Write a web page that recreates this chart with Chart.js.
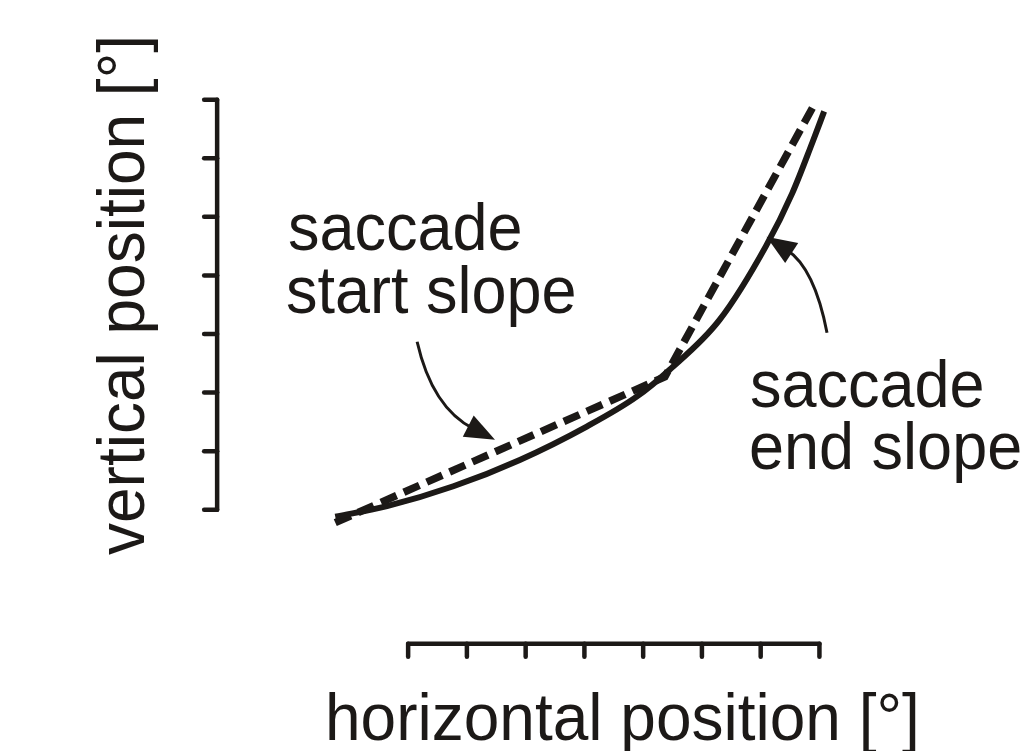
<!DOCTYPE html>
<html>
<head>
<meta charset="utf-8">
<script src="https://cdn.jsdelivr.net/npm/chart.js@4"></script>
<style>
  html, body { margin: 0; padding: 0; background: #ffffff; }
  #wrap { width: 1025px; height: 751px; position: relative; }
</style>
</head>
<body>
<div id="wrap"><canvas id="c" width="1025" height="751"></canvas></div>
<script>
// ---- data (axis units, degrees, unlabeled ticks) ----
const xTicks = [0, 1, 2, 3, 4, 5, 6, 7];
const yTicks = [0, 1, 2, 3, 4, 5, 6, 7];

// actual saccade trajectory (solid, curved)
const trajX = [-1.24, -0.36, 0.77, 1.90, 3.04, 3.89, 4.45, 5.30, 6.09, 6.54, 6.88, 7.08];
const trajY = [-0.12, 0.06, 0.40, 0.85, 1.42, 1.93, 2.39, 3.24, 4.50, 5.41, 6.27, 6.80];

// start slope / end slope (dashed, two straight pieces)
const slopeX = [-1.24, 4.37, 6.93];
const slopeY = [-0.22, 2.27, 6.95];

// annotation arrows: start, control, tip (axis units)
const arrowStart = [[0.153, 2.868], [0.408, 1.742], [1.478, 1.195]];
const arrowEnd   = [[7.129, 3.022], [6.915, 4.132], [6.099, 4.661]];

const xTitle = "horizontal position [°]";
const yTitle = "vertical position [°]";
const labelStart = ["saccade", "start slope"];
const labelEnd = ["saccade", "end slope"];

const INK = "#1c1917";
const FAMILY = '"Liberation Sans", Arial, Helvetica, sans-serif';

const toPts = (xs, ys) => xs.map((x, i) => ({ x: x, y: ys[i] }));

const decor = {
  id: "decor",
  afterDatasetsDraw(chart) {
    const ctx = chart.ctx;
    const xs = chart.scales.x, ys = chart.scales.y;
    const px = v => xs.getPixelForValue(v);
    const py = v => ys.getPixelForValue(v);
    ctx.save();
    ctx.strokeStyle = INK;
    ctx.fillStyle = INK;
    ctx.lineCap = "round";
    ctx.lineWidth = 4.5;

    // y axis (detached, to the left)
    const yAxisX = px(xTicks[0]) - 191;
    ctx.beginPath();
    ctx.moveTo(yAxisX, py(yTicks[0]));
    ctx.lineTo(yAxisX, py(yTicks[yTicks.length - 1]));
    ctx.stroke();
    yTicks.forEach(t => {
      ctx.beginPath();
      ctx.moveTo(yAxisX, py(t));
      ctx.lineTo(yAxisX - 13, py(t));
      ctx.stroke();
    });

    // x axis (detached, below)
    const xAxisY = py(yTicks[0]) + 134;
    ctx.beginPath();
    ctx.moveTo(px(xTicks[0]), xAxisY);
    ctx.lineTo(px(xTicks[xTicks.length - 1]), xAxisY);
    ctx.stroke();
    xTicks.forEach(t => {
      ctx.beginPath();
      ctx.moveTo(px(t), xAxisY);
      ctx.lineTo(px(t), xAxisY + 13);
      ctx.stroke();
    });

    // arrows
    const drawArrow = (a) => {
      const S = [px(a[0][0]), py(a[0][1])];
      const C = [px(a[1][0]), py(a[1][1])];
      const T = [px(a[2][0]), py(a[2][1])];
      const ang = Math.atan2(T[1] - C[1], T[0] - C[0]);
      const L = 30, W = 12;
      const bx = T[0] - L * Math.cos(ang), by = T[1] - L * Math.sin(ang);
      ctx.lineWidth = 3;
      ctx.lineCap = "butt";
      ctx.beginPath();
      ctx.moveTo(S[0], S[1]);
      const ex = T[0] - (L * 0.8) * Math.cos(ang), ey = T[1] - (L * 0.8) * Math.sin(ang);
      ctx.quadraticCurveTo(C[0], C[1], ex, ey);
      ctx.stroke();
      ctx.beginPath();
      ctx.moveTo(T[0], T[1]);
      ctx.lineTo(bx + W * Math.sin(ang), by - W * Math.cos(ang));
      ctx.lineTo(bx - W * Math.sin(ang), by + W * Math.cos(ang));
      ctx.closePath();
      ctx.fill();
    };
    drawArrow(arrowStart);
    drawArrow(arrowEnd);

    // texts (slightly tall glyphs, as in the original figure)
    const STRETCH = 1.05;
    const text = (t, x, y, size, rot) => {
      ctx.save();
      ctx.font = size + "px " + FAMILY;
      ctx.textBaseline = "alphabetic";
      ctx.textAlign = "left";
      ctx.translate(x, y);
      if (rot) { ctx.rotate(rot); }
      ctx.scale(1, STRETCH);
      ctx.fillText(t, 0, 0);
      ctx.restore();
    };
    text(labelStart[0], 288, 250, 63);
    text(labelStart[1], 286, 313, 63);
    text(labelEnd[0], 750, 407, 63);
    text(labelEnd[1], 749, 469, 63);
    text(xTitle, 325, 740, 64);
    text(yTitle, 144, 555, 64, -Math.PI / 2);

    ctx.restore();
  }
};

new Chart(document.getElementById("c"), {
  type: "line",
  data: {
    datasets: [
      {
        label: "saccade",
        data: toPts(trajX, trajY),
        borderColor: INK,
        borderWidth: 6,
        pointRadius: 0,
        cubicInterpolationMode: "monotone",
        fill: false,
        order: 0
      },
      {
        label: "slopes",
        data: toPts(slopeX, slopeY),
        borderColor: INK,
        borderWidth: 7.5,
        borderDash: [17, 8],
        borderCapStyle: "butt",
        pointRadius: 0,
        tension: 0,
        fill: false,
        order: 1
      }
    ]
  },
  options: {
    responsive: false,
    devicePixelRatio: 1,
    animation: false,
    events: [],
    layout: { padding: { left: 320, right: 185, top: 88, bottom: 212 } },
    plugins: { legend: { display: false }, tooltip: { enabled: false } },
    scales: {
      x: { type: "linear", min: -1.5, max: 7.35, display: false },
      y: { type: "linear", min: -0.5, max: 7.2, display: false }
    }
  },
  plugins: [decor]
});
</script>
</body>
</html>
